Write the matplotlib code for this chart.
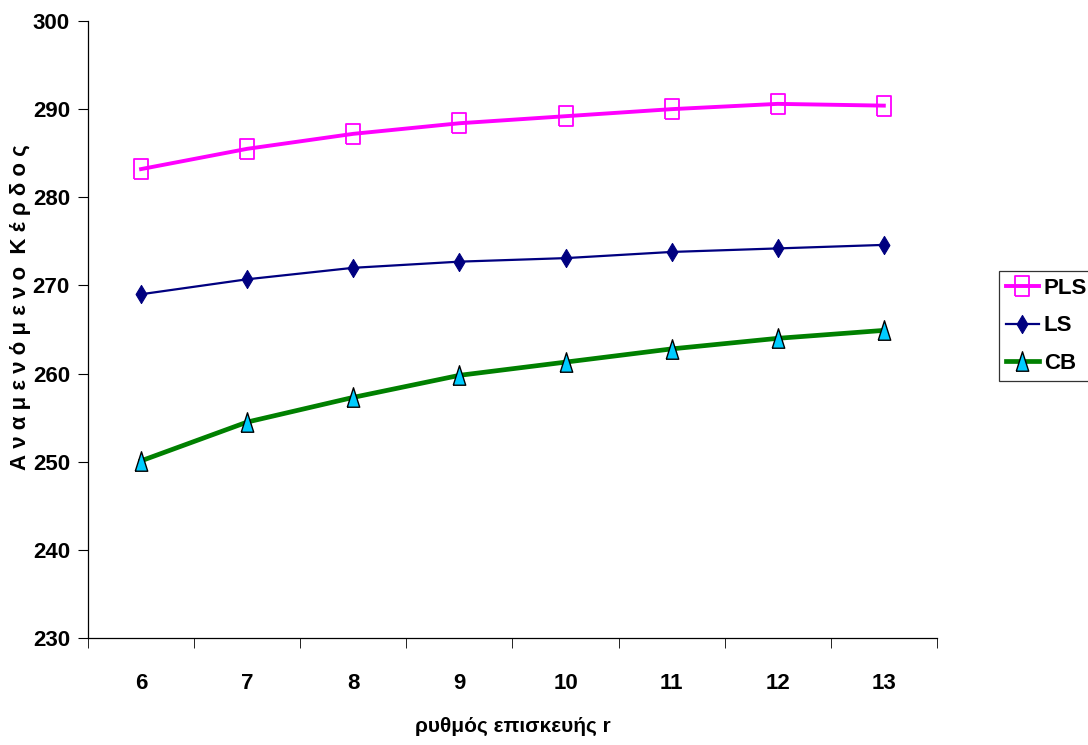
import matplotlib
matplotlib.use("Agg")
import matplotlib.pyplot as plt
from matplotlib.ticker import FixedLocator
from matplotlib import font_manager

categories = [6, 7, 8, 9, 10, 11, 12, 13]
pls = [283.2, 285.5, 287.2, 288.4, 289.2, 290.0, 290.6, 290.4]
ls = [269.0, 270.7, 272.0, 272.7, 273.1, 273.8, 274.2, 274.6]
cb = [250.1, 254.5, 257.3, 259.8, 261.3, 262.8, 264.0, 264.9]
yticks = [230, 240, 250, 260, 270, 280, 290, 300]

names = {f.name for f in font_manager.fontManager.ttflist}
narrow = 'Liberation Sans Narrow' if 'Liberation Sans Narrow' in names else 'Liberation Sans'
fam = [narrow, 'Liberation Sans', 'DejaVu Sans']
plt.rcParams['font.family'] = fam

# tall custom markers
rect = [(-0.36, -0.5), (0.36, -0.5), (0.36, 0.5), (-0.36, 0.5), (-0.36, -0.5)]
diam = [(0, -0.5), (0.3, 0), (0, 0.5), (-0.3, 0), (0, -0.5)]
tri = [(-0.32, -0.5), (0.32, -0.5), (0, 0.5), (-0.32, -0.5)]

fig = plt.figure(figsize=(10.88, 7.45), dpi=100)
ax = fig.add_axes([0.0809, 0.1436, 0.7802, 0.8282])

x = list(range(len(categories)))
ax.plot(x, pls, color='#FF00FF', lw=2.8, marker=rect, ms=14, mfc='none',
        mec='#FF00FF', mew=1.3, label='PLS')
ax.plot(x, ls, color='#000080', lw=1.6, marker=diam, ms=13, mfc='#000080',
        mec='#000080', mew=0.8, label='LS')
ax.plot(x, cb, color='#008000', lw=3.4, marker=tri, ms=14, mfc='#00CCFF',
        mec='black', mew=1.0, label='CB')

ax.set_xlim(-0.5, len(categories) - 0.5)
ax.set_ylim(230, 300)
ax.set_yticks(yticks)
ax.set_xticks(x)
ax.set_xticklabels([str(c) for c in categories])
ax.xaxis.set_minor_locator(FixedLocator([i - 0.5 for i in range(len(categories) + 1)]))
ax.tick_params(axis='x', which='major', length=0, pad=33)
ax.tick_params(axis='x', which='minor', length=7, direction='out')
ax.tick_params(axis='y', length=7, direction='out', pad=6)
for lab in ax.get_xticklabels() + ax.get_yticklabels():
    lab.set_fontweight('bold')
    lab.set_fontsize(16)
for lab in ax.get_xticklabels():
    lab.set_verticalalignment('center')

for s in ['top', 'right']:
    ax.spines[s].set_visible(False)
for s in ['left', 'bottom']:
    ax.spines[s].set_linewidth(0.9)

ax.set_xlabel('ρυθμός επισκευής r', fontsize=15, fontweight='bold')
ax.xaxis.set_label_coords(0.5, -0.144)
ax.xaxis.label.set_verticalalignment('center')
ax.set_ylabel('Α ν α μ ε ν ό μ ε ν ο  Κ έ ρ δ ο ς', fontsize=16, fontweight='bold')
ax.yaxis.set_label_coords(-0.080, 0.536)
ax.yaxis.label.set_verticalalignment('center')

leg = fig.legend(loc='upper left', bbox_to_anchor=(999 / 1088, 1 - 271 / 745),
                 frameon=True, fancybox=False, edgecolor='black', fontsize=16,
                 handlelength=1.5, borderpad=0.3, labelspacing=0.75,
                 handletextpad=0.22, borderaxespad=0.0)
leg.get_frame().set_linewidth(0.9)
for t in leg.get_texts():
    t.set_fontweight('bold')

fig.savefig('out.png', dpi=100)
